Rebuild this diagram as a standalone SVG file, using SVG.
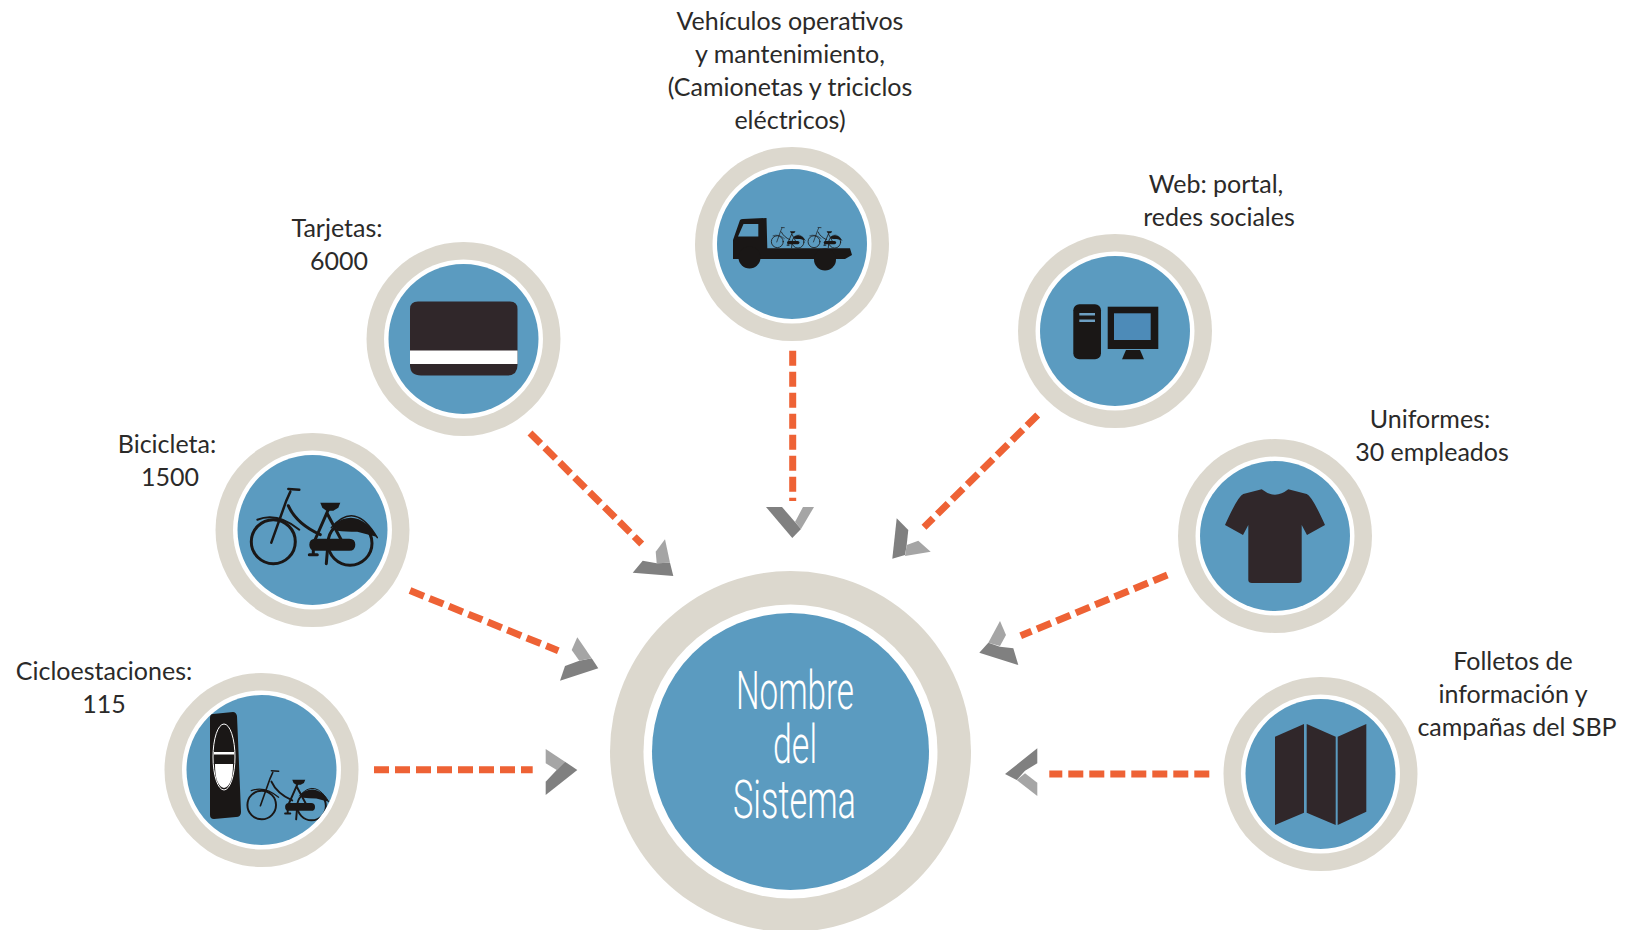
<svg xmlns="http://www.w3.org/2000/svg" xmlns:xlink="http://www.w3.org/1999/xlink" width="1636" height="930" viewBox="0 0 1636 930">
<style>
.ring{fill:#dcd8ce}.gap{fill:#fff}.blue{fill:#5b9bc0}
.lbl{font-family:"Lato","Noto Sans",sans-serif;font-size:25px;fill:#2b2a29;text-anchor:middle}
.title{font-family:"Roboto","Liberation Sans",sans-serif;font-weight:300;font-size:54px;fill:#fff}
.dash{stroke:#ee6235;stroke-width:7;fill:none;stroke-dasharray:15 6}
.d{fill:#808080}.l{fill:#a5a5a5}
.ink{fill:#1a1716}.ink2{fill:#30272a}
.bs{fill:none;stroke:#1a1716;stroke-linecap:round}
</style>
<defs>
<clipPath id="clipC"><circle cx="261.5" cy="770" r="75"/></clipPath>
<g id="bike">
<circle class="bs" cx="0" cy="0" r="22" stroke-width="3"/>
<circle class="bs" cx="76.7" cy="1.5" r="22" stroke-width="3"/>
<path class="bs" stroke-width="2" d="M-16-22Q4-30 26-12M102-8"/>
<path class="bs" stroke-width="2.5" d="M-2 1L13-41L17-50M15 -52.700L26-52"/>
<path class="bs" stroke-width="3" d="M15-36Q23-18 47-7M55-32L40 2V13M36 13H44M54-28L70 2M55-2L53 22"/>
<path class="ink" d="M42-3H76Q82-3 82 3Q82 9 76 9H42Q36 9 36 3Q36-3 42-3Z"/>
<path class="ink" d="M47-39H67L65-34L60-31H53L49-34Z"/>
<path class="ink" d="M61-18Q78-30 93-18Q100-12 103-5L84-10Q72-10 64-11Z"/>
<path class="bs" stroke-width="1.500" d="M58-14Q82-42 104-4"/>
</g>
</defs>

<g id="connectors">
<path class="dash" d="M792.700 350.700V501"/>
<path class="dash" d="M530 433L641.700 544"/>
<path class="dash" d="M410 590.500L558.300 650.700"/>
<path class="dash" d="M374 769.700H532.700"/>
<path class="dash" d="M1037.700 415L924 527.300"/>
<path class="dash" d="M1167.300 575L1020.700 635.700"/>
<path class="dash" d="M1209.300 774H1049.300"/>
<g id="arrowheads">
<polygon class="d" points="766,507 782,507 795,522 801,529 792.300,538"/><polygon class="l" points="795,522 803,507 814,507 801,529"/>
<polygon class="d" points="632.700,572.700 642.700,560.700 656.700,563.300 670,562.700 673.300,576"/><polygon class="l" points="656.700,563.300 655.700,551.700 665,539.300 670,562.700"/>
<polygon class="d" points="560,680.700 565,666 579.300,660.700 591.700,658.300 598.300,668.300"/><polygon class="l" points="579.300,660.700 571.700,650 577.300,637.300 591.700,658.300"/>
<polygon class="l" points="545.700,749 565,761.700 556.700,770 545.700,763.300"/><polygon class="d" points="556.700,770 565,761.700 577.300,770 545.700,795 545.700,781.700"/>
<polygon class="d" points="896.700,518.300 908.300,530 906.700,545 905,555 892.300,558.700"/><polygon class="l" points="906.700,545 918.300,540.700 930.700,551.700 905,556"/>
<polygon class="l" points="1000,621 1006,635 1000,646 988.300,642.700"/><polygon class="d" points="988.300,642.700 1000,646.700 1013.300,648.300 1018.300,665 979.300,652.700"/>
<polygon class="d" points="1037.300,748.300 1037.300,763.300 1025,770.700 1016.700,780 1005,774"/><polygon class="l" points="1016.700,780 1025,773.300 1037.300,782.700 1037.300,796"/>
</g>
</g>

<g id="node-centro">
<circle class="ring" cx="790.500" cy="751.500" r="180.500"/><circle class="gap" cx="790.500" cy="751.500" r="147"/><circle class="blue" cx="790.500" cy="751.500" r="138.500"/>
<text class="title" x="736" y="709" textLength="118" lengthAdjust="spacingAndGlyphs">Nombre</text>
<text class="title" x="773" y="763" textLength="44" lengthAdjust="spacingAndGlyphs">del</text>
<text class="title" x="733" y="818" textLength="123" lengthAdjust="spacingAndGlyphs">Sistema</text>
</g>

<g id="node-vehiculos">
<circle class="ring" cx="792" cy="244" r="97"/><circle class="gap" cx="792" cy="244" r="79.500"/><circle class="blue" cx="792" cy="244" r="75"/>
<path class="ink" d="M733 240L740 220Q741 219 743 219L766.500 218L767.300 248.300H850L852 255L845 259L733 259Z"/>
<path class="blue" d="M738 236.500L743.500 224H758.300V236.500Z"/>
<circle class="ink" cx="749.500" cy="257.500" r="11"/><circle class="ink" cx="825" cy="259.500" r="11"/>
<use xlink:href="#bike" transform="translate(777.300 241.700) scale(.27)"/>
<use xlink:href="#bike" transform="translate(814 241.700) scale(.27)"/>
<text class="lbl" x="790" y="30">Vehículos operativos</text>
<text class="lbl" x="790" y="63">y mantenimiento,</text>
<text class="lbl" x="790" y="96">(Camionetas y triciclos</text>
<text class="lbl" x="790" y="129">eléctricos)</text>
</g>

<g id="node-tarjetas">
<circle class="ring" cx="463.500" cy="339" r="97"/><circle class="gap" cx="463.500" cy="339" r="79.500"/><circle class="blue" cx="463.500" cy="339" r="75"/>
<path class="ink2" d="M418 301.500H510Q517.500 301.500 517.500 309V365Q517.500 375.500 507 375.500H421Q410 375.500 410 365V309Q410 301.500 418 301.500Z"/>
<rect class="gap" x="410" y="350.500" width="107.500" height="13.500"/>
<text class="lbl" x="337" y="237">Tarjetas:</text>
<text class="lbl" x="339" y="270">6000</text>
</g>

<g id="node-bicicleta">
<circle class="ring" cx="312.500" cy="530" r="97"/><circle class="gap" cx="312.500" cy="530" r="79.500"/><circle class="blue" cx="312.500" cy="530" r="75"/>
<use xlink:href="#bike" transform="translate(273.300 541.700)"/>
<text class="lbl" x="167" y="453">Bicicleta:</text>
<text class="lbl" x="170" y="486">1500</text>
</g>

<g id="node-cicloestaciones">
<circle class="ring" cx="261.500" cy="770" r="97"/><circle class="gap" cx="261.500" cy="770" r="79.500"/><circle class="blue" cx="261.500" cy="770" r="75"/>
<path class="ink" d="M213 714L233 712Q236 712 237 716L241 812Q241 817 236 817L214 819Q210 819 210 815L210 718Q210 714 213 714Z"/>
<ellipse cx="224" cy="757" rx="11" ry="33" fill="none" stroke="#fff" stroke-width="1"/>
<path class="gap" d="M215 764H233Q233 786 224 788Q215 786 215 764Z"/>
<rect class="gap" x="214" y="752" width="20" height="2.500"/>
<g clip-path="url(#clipC)"><use xlink:href="#bike" transform="translate(261.700 805) scale(.65)"/></g>
<text class="lbl" x="104" y="680">Cicloestaciones:</text>
<text class="lbl" x="104" y="713">115</text>
</g>

<g id="node-web">
<circle class="ring" cx="1115" cy="331" r="97"/><circle class="gap" cx="1115" cy="331" r="79.500"/><circle class="blue" cx="1115" cy="331" r="75"/>
<rect class="ink" x="1073.300" y="304.300" width="27.700" height="55" rx="6"/>
<rect x="1079.300" y="313" width="15.700" height="2.500" fill="#6d9fc2"/><rect x="1079.300" y="319.500" width="15.700" height="2.500" fill="#6d9fc2"/>
<rect class="ink" x="1107.700" y="306.700" width="50.600" height="42.300"/>
<rect x="1114" y="313.300" width="36.700" height="26.700" fill="#4d8bb8"/>
<path class="ink" d="M1126 350H1140L1144 359.300H1122Z"/>
<text class="lbl" x="1216" y="193">Web: portal,</text>
<text class="lbl" x="1219" y="226">redes sociales</text>
</g>

<g id="node-uniformes">
<circle class="ring" cx="1275" cy="536" r="97"/><circle class="gap" cx="1275" cy="536" r="79.500"/><circle class="blue" cx="1275" cy="536" r="75"/>
<path class="ink2" d="M1261.700 489.300Q1275 500 1288.300 489.300L1306.700 494Q1312 496 1325 525L1307 535L1301.700 525V580Q1301.700 583 1298 583H1252Q1248.300 583 1248.300 580V525L1243 535L1225 525Q1238 496 1243.300 494Z"/>
<text class="lbl" x="1430" y="428">Uniformes:</text>
<text class="lbl" x="1432" y="461">30 empleados</text>
</g>

<g id="node-folletos">
<circle class="ring" cx="1320.500" cy="774" r="97"/><circle class="gap" cx="1320.500" cy="774" r="79.500"/><circle class="blue" cx="1320.500" cy="774" r="75"/>
<polygon class="ink2" points="1275,736.700 1304,724 1304,812.700 1275,825"/>
<polygon class="ink2" points="1306.700,724 1335.700,736.700 1335.700,825 1306.700,812.700"/>
<polygon class="ink2" points="1337.700,736.700 1366.300,724 1366.300,811.700 1337.700,825"/>
<text class="lbl" x="1513" y="670">Folletos de</text>
<text class="lbl" x="1513" y="703">información y</text>
<text class="lbl" x="1517" y="736">campañas del SBP</text>
</g>
</svg>
